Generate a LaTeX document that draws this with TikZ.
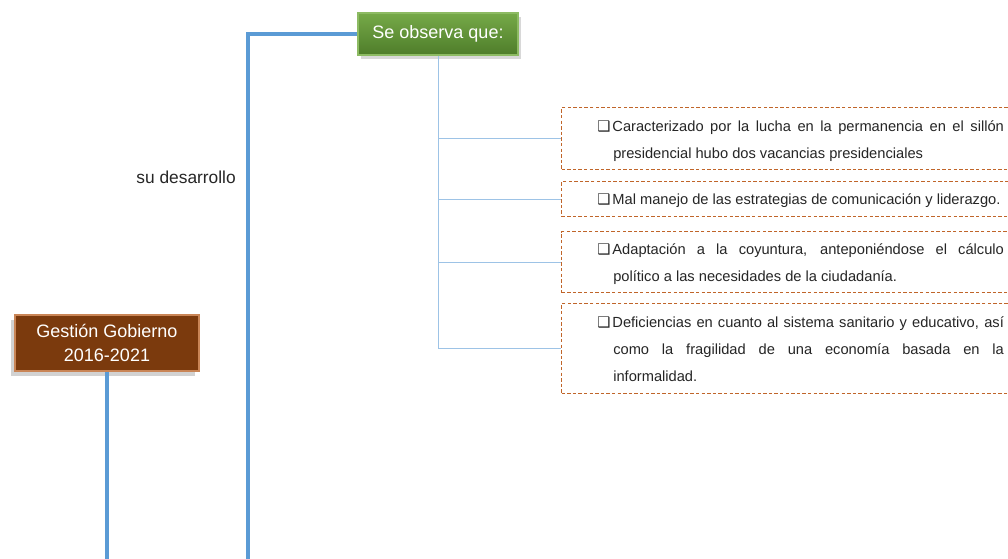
\documentclass[tikz,border=0pt]{standalone}
\usepackage{fontspec}
\setmainfont{Liberation Sans}
\newfontfamily\symfont{DejaVu Sans}
\usetikzlibrary{shadows}
\definecolor{linkblue}{HTML}{5B9BD5}
\definecolor{thinblue}{HTML}{9DC3E6}
\definecolor{dashbrown}{HTML}{C0652A}
\definecolor{greentop}{HTML}{76A948}
\definecolor{greenbot}{HTML}{4E7D2A}
\definecolor{greenedge}{HTML}{8DBB63}
\definecolor{brownfill}{HTML}{7B3A0D}
\definecolor{brownedge}{HTML}{C98556}
\newcommand{\cbx}{{\symfont\fontsize{11pt}{11pt}\selectfont ❑}\hspace{1.5pt}}
\newcommand{\hang}{\hyphenpenalty=10000\exhyphenpenalty=10000\hbadness=10000\hangindent=12pt\hangafter=1}
\tikzset{
  greenbox/.style={draw=greenedge, line width=1.2pt, top color=greentop, bottom color=greenbot,
    text=white, font=\fontsize{13.5pt}{16pt}\selectfont, inner sep=0pt,
    minimum width=120pt, minimum height=31.5pt,
    drop shadow={shadow xshift=2pt, shadow yshift=-3pt, opacity=0.3}},
  brownbox/.style={draw=brownedge, line width=1.2pt, fill=brownfill, text=white,
    font=\fontsize{13.5pt}{18pt}\selectfont, align=center, inner sep=0pt,
    minimum width=138pt, minimum height=42pt,
    drop shadow={shadow xshift=-3pt, shadow yshift=-4pt, opacity=0.35}},
  dbox/.style={draw=dashbrown, line width=0.9pt, dash pattern=on 2.6pt off 1.6pt,
    anchor=north west, inner sep=0pt, minimum width=352pt},
  btext/.style={anchor=north west, inner sep=0pt, text width=305pt, align=justify,
    font=\fontsize{11pt}{20.25pt}\selectfont, text=black!85},
  thickline/.style={draw=linkblue, line width=2.3pt},
  thinline/.style={draw=thinblue, line width=0.7pt},
  plainlabel/.style={font=\fontsize{13pt}{15pt}\selectfont, text=black!85, anchor=east, inner sep=0pt}
}
\begin{document}
\begin{tikzpicture}[x=0.75pt,y=-0.75pt]
\useasboundingbox (0,0) rectangle (1008,559);
\clip (0,0) rectangle (1008,559);
\fill[white] (0,0) rectangle (1008,559);

\node[greenbox] (se) at (438,34) {Se observa que:};
\node[brownbox] (gg) at (107,343) {Gestión Gobierno\\2016-2021};

% trunks
\coordinate (corner) at (se.west -| 248,0);
\coordinate (bot1) at (107,562);
\coordinate (bot2) at (248,562);

\draw[thickline] (se.west) -- (corner) -- (corner |- bot2);
\draw[thickline] (gg.south) -- (bot1);

\node[plainlabel] (sd) at (236,177) {su desarrollo};

% dashed boxes
\node[dbox, minimum height=46.5pt] (b1) at (561,107) {};
\node[dbox, minimum height=26.25pt] (b2) at (561,181) {};
\node[dbox, minimum height=45.75pt] (b3) at (561,231) {};
\node[dbox, minimum height=67.5pt] (b4) at (561,303) {};

\node[btext] (t1) at (597,120) {\hang\cbx Caracterizado por la lucha en la permanencia en el sillón\linebreak presidencial hubo dos vacancias presidenciales\par};
\node[btext] (t2) at (597,193) {\hang\cbx Mal manejo de las estrategias de comunicación y liderazgo.\par};
\node[btext] (t3) at (597,243) {\hang\cbx Adaptación a la coyuntura, anteponiéndose el cálculo\linebreak político a las necesidades de la ciudadanía.\par};
\node[btext] (t4) at (597,316) {\hang\cbx Deficiencias en cuanto al sistema sanitario y educativo, así\linebreak como la fragilidad de una economía basada en la\linebreak informalidad.\par};

% thin connectors
\draw[thinline] (se.south) -- (se.south |- b4.west);
\foreach \b in {b1,b2,b3,b4} \draw[thinline] (se.south |- \b.west) -- (\b.west);
\end{tikzpicture}
\end{document}
